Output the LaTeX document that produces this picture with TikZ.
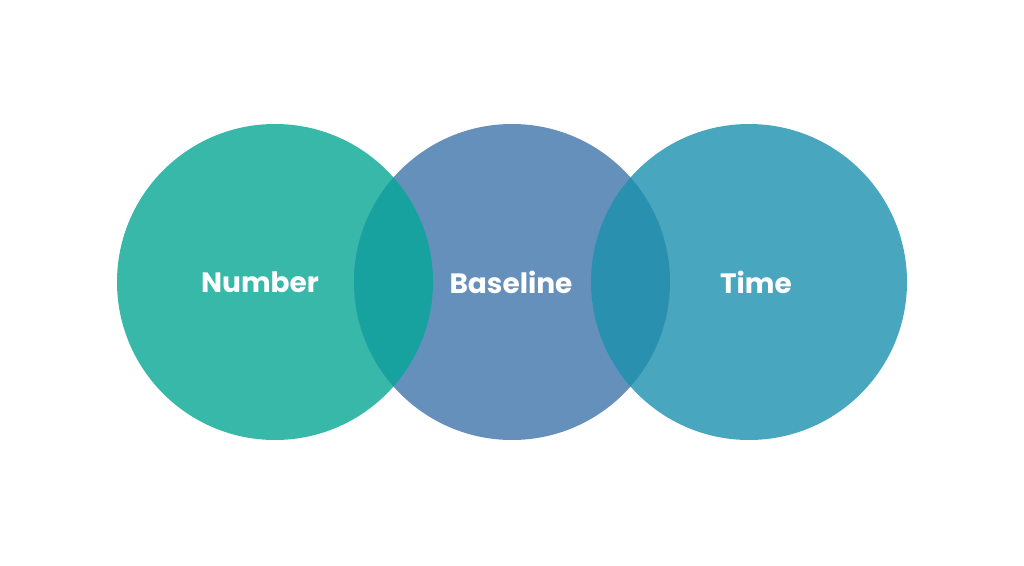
\documentclass[tikz,border=0pt]{standalone}
\usepackage{fontspec}
\setmainfont{Poppins}
\definecolor{cA}{HTML}{38B8A9}
\definecolor{cB}{HTML}{6690BC}
\definecolor{cC}{HTML}{48A6BE}
\definecolor{cAB}{HTML}{18A29F}
\definecolor{cBC}{HTML}{2A90B0}
\begin{document}
\begin{tikzpicture}[x=1pt,y=1pt,lbl/.style={text=white,font=\fontsize{28}{32}\selectfont\bfseries}]
\useasboundingbox (0,0) rectangle (1024,565);
\fill[cA] (275,283) circle (158);
\fill[cB] (512,283) circle (158);
\fill[cC] (749,283) circle (158);
\begin{scope}\clip (275,283) circle (158); \fill[cAB] (512,283) circle (158);\end{scope}
\begin{scope}\clip (512,283) circle (158); \fill[cBC] (749,283) circle (158);\end{scope}
\node[lbl] (n) at (260,283) {Number};
\node[lbl] (b) at (511,283) {Baseline};
\node[lbl] (t) at (756,283) {Time};
\end{tikzpicture}
\end{document}
